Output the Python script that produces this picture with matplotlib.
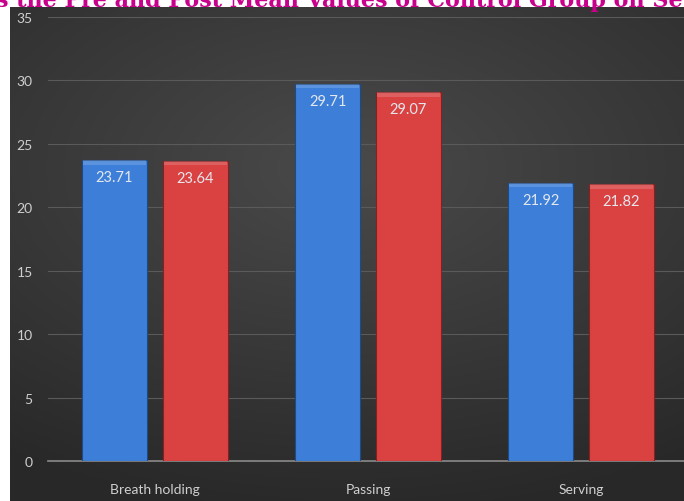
import matplotlib.pyplot as plt
import numpy as np

categories = ["Breath holding", "Passing", "Serving"]
pre_values = [23.71, 29.71, 21.92]
post_values = [23.64, 29.07, 21.82]
y_ticks = [0, 5, 10, 15, 20, 25, 30, 35]

W, H = 684, 502
fig = plt.figure(figsize=(W / 100, H / 100), dpi=100)
fig.patch.set_facecolor("white")

# dark chart panel with a soft radial gradient
bg = fig.add_axes([10 / W, 0, 1 - 10 / W, 1 - 8 / H])
yy, xx = np.mgrid[-1:1:200j, -1:1:300j]
r = np.sqrt((xx * 0.8) ** 2 + (yy + 0.35) ** 2)
shade = 0.29 - 0.13 * np.clip(r, 0, 1.4) / 1.4
bg.imshow(np.dstack([shade, shade, shade]), aspect="auto", extent=[0, 1, 0, 1])
bg.set_axis_off()

# title line, cut off at the top as in the source
fig.text(-4 / W, 1 - 6.5 / H, "s the Pre and Post Mean Values of Control Group on Se",
         color="#c8008c", fontsize=16, fontweight="bold", family="DejaVu Serif",
         va="baseline", ha="left")

ax = fig.add_axes([48 / W, 40 / H, 1 - 48 / W, (462 - 18) / H])
ax.set_facecolor("none")

x = np.arange(len(categories))
bw = 0.305
off = 0.19
b1 = ax.bar(x - off, pre_values, bw, color="#3d7fd8", edgecolor="#1e4a88", linewidth=0.8, zorder=3)
b2 = ax.bar(x + off, post_values, bw, color="#da4242", edgecolor="#8a1f1f", linewidth=0.8, zorder=3)

for bars in (b1, b2):
    for b in bars:
        cx = b.get_x() + b.get_width() / 2
        # light top bevel
        ax.bar(cx, 0.32, b.get_width() * 0.97, bottom=b.get_height() - 0.34,
               color="white", alpha=0.16, linewidth=0, zorder=4)
        ax.annotate(f"{b.get_height():.2f}", (cx, b.get_height()),
                    xytext=(0, -7), textcoords="offset points", ha="center", va="top",
                    color="#e4e8ee", fontsize=10.5, family="Lato", zorder=5)

ax.set_xlim((48 - 155) / 213, (684 - 155) / 213)
ax.set_ylim(0, 35)
ax.set_yticks(y_ticks)
ax.set_xticks(x)
ax.set_xticklabels(categories)
ax.grid(axis="y", color="#5a5a5a", linewidth=0.8, zorder=0)
ax.tick_params(length=0, colors="#cfcfcf", labelsize=10)
ax.tick_params(axis="y", pad=11)
ax.tick_params(axis="x", pad=16)
for lab in ax.get_xticklabels() + ax.get_yticklabels():
    lab.set_family("Lato")
for s in ["top", "right", "left"]:
    ax.spines[s].set_visible(False)
ax.spines["bottom"].set_color("#8a8a8a")
ax.spines["bottom"].set_linewidth(1.2)

fig.savefig("out.png", dpi=100)
